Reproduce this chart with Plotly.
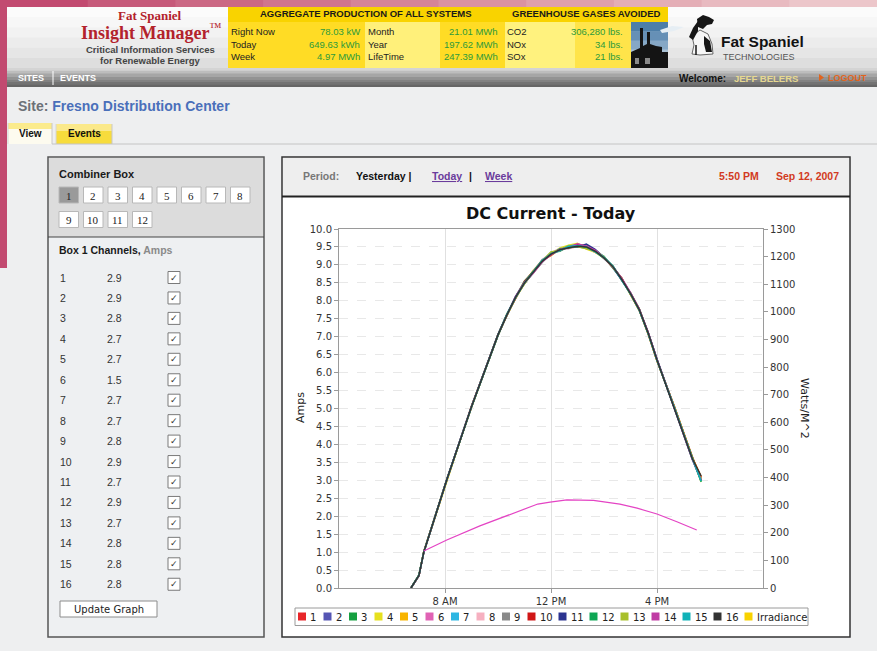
import plotly.graph_objects as go

# ---------------- data ----------------
DAY = "2007-09-12 "
TIMES = ["06:43", "07:01", "07:12", "08:05", "09:00", "10:00", "10:20", "10:40", "11:00",
         "11:20", "11:40", "12:00", "12:20", "12:40", "13:00", "13:20", "13:40", "14:00",
         "14:20", "14:40", "15:00", "15:20", "15:40", "16:00", "16:40", "17:20", "17:40"]

CH01 = [0.0, 0.35, 1.00, 3.04, 5.06, 7.04, 7.62, 8.08, 8.52, 8.82, 9.12, 9.33, 9.40, 9.50, 9.55, 9.48, 9.36, 9.22, 8.93, 8.62, 8.18, 7.77, 7.08, 6.33, 5.02, 3.62, 2.98]
CH02 = [0.0, 0.34, 1.01, 3.06, 5.04, 7.06, 7.58, 8.12, 8.48, 8.78, 9.15, 9.28, 9.45, 9.46, 9.58, 9.52, 9.40, 9.18, 8.97, 8.58, 8.22, 7.73, 7.12, 6.37, 4.98, 3.58, 3.02]
CH03 = [0.0, 0.36, 0.99, 3.05, 5.05, 7.03, 7.61, 8.11, 8.55, 8.80, 9.08, 9.35, 9.38, 9.52, 9.50, 9.47, 9.41, 9.21, 8.92, 8.63, 8.19, 7.76, 7.09, 6.34, 5.03, 3.63, 3.05]
CH04 = [0.0, 0.35, 1.00, 3.03, 5.07, 7.05, 7.63, 8.07, 8.50, 8.85, 9.10, 9.30, 9.47, 9.55, 9.60, 9.44, 9.35, 9.19, 8.98, 8.57, 8.23, 7.78, 7.11, 6.36, 4.99, 3.59, 2.95]
CH05 = [0.0, 0.35, 1.02, 3.07, 5.03, 7.07, 7.59, 8.09, 8.47, 8.83, 9.13, 9.26, 9.43, 9.49, 9.53, 9.56, 9.37, 9.23, 8.94, 8.64, 8.17, 7.72, 7.07, 6.32, 5.04, 3.64, 3.10]
CH06 = [0.0, 0.34, 1.00, 3.04, 5.05, 7.04, 7.60, 8.13, 8.53, 8.77, 9.09, 9.32, 9.44, 9.47, 9.49, 9.53, 9.42, 9.17, 8.96, 8.61, 8.21, 7.74, 7.13, 6.38, 5.01, 3.61, 3.00]
CH07 = [0.0, 0.36, 1.01, 3.06, 5.06, 7.06, 7.62, 8.10, 8.49, 8.81, 9.11, 9.29, 9.41, 9.53, 9.56, 9.51, 9.39, 9.24, 8.91, 8.59, 8.20, 7.76, 7.10, 6.35, 5.00, 3.60, 2.97]
CH08 = [0.0, 0.35, 0.99, 3.05, 5.04, 7.05, 7.61, 8.08, 8.51, 8.84, 9.14, 9.34, 9.46, 9.45, 9.51, 9.49, 9.36, 9.20, 8.95, 8.62, 8.18, 7.75, 7.09, 6.33, 5.02, 3.62, 3.03]
CH09 = [0.0, 0.35, 1.00, 3.05, 5.05, 7.04, 7.59, 8.11, 8.50, 8.79, 9.07, 9.31, 9.39, 9.50, 9.54, 9.50, 9.38, 9.22, 8.97, 8.60, 8.22, 7.77, 7.12, 6.36, 4.98, 3.58, 2.99]
CH10 = [0.0, 0.34, 1.01, 3.04, 5.06, 7.05, 7.60, 8.09, 8.54, 8.82, 9.12, 9.27, 9.44, 9.48, 9.57, 9.46, 9.40, 9.19, 8.93, 8.63, 8.19, 7.73, 7.08, 6.34, 5.03, 3.63, 3.08]
CH11 = [0.0, 0.35, 1.00, 3.06, 5.05, 7.06, 7.61, 8.12, 8.49, 8.80, 9.10, 9.33, 9.42, 9.51, 9.50, 9.58, 9.43, 9.21, 8.94, 8.58, 8.21, 7.76, 7.11, 6.37, 5.01, 3.61, 3.00]
CH12 = [0.0, 0.36, 1.00, 3.05, 5.04, 7.04, 7.62, 8.10, 8.52, 8.83, 9.13, 9.30, 9.45, 9.47, 9.52, 9.48, 9.37, 9.18, 8.96, 8.61, 8.20, 7.74, 7.10, 6.35, 5.00, 3.60, 2.96]
CH13 = [0.0, 0.35, 1.01, 3.04, 5.05, 7.05, 7.58, 8.08, 8.48, 8.81, 9.11, 9.36, 9.41, 9.54, 9.51, 9.45, 9.39, 9.23, 8.92, 8.62, 8.17, 7.75, 7.09, 6.33, 5.02, 3.62, 3.04]
CH14 = [0.0, 0.34, 0.99, 3.06, 5.06, 7.06, 7.60, 8.11, 8.51, 8.78, 9.09, 9.28, 9.43, 9.49, 9.59, 9.52, 9.41, 9.20, 8.95, 8.64, 8.23, 7.77, 7.12, 6.36, 4.99, 3.59, 3.01]
CH15 = [0.0, 0.35, 1.00, 3.05, 5.05, 7.05, 7.61, 8.09, 8.50, 8.82, 9.12, 9.31, 9.40, 9.52, 9.53, 9.50, 9.36, 9.22, 8.97, 8.59, 8.19, 7.73, 7.08, 6.34, 5.01, 3.61, 2.98]
CH16 = [0.0, 0.35, 1.00, 3.05, 5.05, 7.05, 7.60, 8.10, 8.50, 8.80, 9.10, 9.30, 9.42, 9.48, 9.52, 9.50, 9.38, 9.20, 8.95, 8.60, 8.20, 7.75, 7.10, 6.35, 5.00, 3.60, 3.12]

IRR_TIMES = ["07:12", "08:04", "09:19", "10:20", "11:30", "11:58", "12:36", "13:36",
             "14:36", "15:15", "16:00", "16:45", "17:30"]
IRR_VALUES = [134, 174, 225, 261, 304, 311, 319, 317, 304, 289, 268, 240, 210]

SERIES_NAMES = ["1", "2", "3", "4", "5", "6", "7", "8", "9", "10", "11", "12", "13",
                "14", "15", "16", "Irradiance"]
SERIES_COLORS = ["#e8262a", "#5656b4", "#16a040", "#e6e01e", "#f8b400", "#e062b4",
                 "#2eb6e2", "#f6b0c0", "#8a8a8a", "#d01616", "#2c3490", "#0ea654",
                 "#a8c02c", "#c03ca4", "#10b2b8", "#333333", "#f8d200"]
IRR_LINE_COLOR = "#e444c4"

AMP_TICKS_STEP = 0.5
WATT_TICKS_STEP = 100
X_TICKS = ["08:00", "12:00", "16:00"]
X_TICK_LABELS = ["8 AM", "12 PM", "4 PM"]

COMBINER_BOXES = ["1", "2", "3", "4", "5", "6", "7", "8", "9", "10", "11", "12"]
CHANNEL_IDS = [str(i) for i in range(1, 17)]
CHANNEL_AMPS = ["2.9", "2.9", "2.8", "2.7", "2.7", "1.5", "2.7", "2.7", "2.8", "2.9",
                "2.7", "2.9", "2.7", "2.8", "2.8", "2.8"]

SUMMARY_LABELS_1 = ["Right Now", "Today", "Week"]
SUMMARY_VALUES_1 = ["78.03 kW", "649.63 kWh", "4.97 MWh"]
SUMMARY_LABELS_2 = ["Month", "Year", "LifeTime"]
SUMMARY_VALUES_2 = ["21.01 MWh", "197.62 MWh", "247.39 MWh"]
GAS_LABELS = ["CO2", "NOx", "SOx"]
GAS_VALUES = ["306,280 lbs.", "34 lbs.", "21 lbs."]

CHANNELS = [CH01, CH02, CH03, CH04, CH05, CH06, CH07, CH08, CH09, CH10, CH11, CH12,
            CH13, CH14, CH15, CH16]

# ---------------- helpers (pixel -> paper) ----------------
W, H = 877, 651


def px(x):
    return x / W


def py(y):
    return 1 - y / H


shapes = []
annotations = []


def rect(x0, y0, x1, y1, fill, line=None, lw=0, layer="below"):
    shapes.append(dict(type="rect", xref="paper", yref="paper",
                       x0=px(x0), x1=px(x1), y0=py(y1), y1=py(y0),
                       fillcolor=fill, line=dict(color=line or fill, width=lw),
                       layer=layer))


def hline(x0, x1, y, color, lw=1, layer="below"):
    shapes.append(dict(type="line", xref="paper", yref="paper",
                       x0=px(x0), x1=px(x1), y0=py(y), y1=py(y),
                       line=dict(color=color, width=lw), layer=layer))


def vline(x, y0, y1, color, lw=1, layer="below"):
    shapes.append(dict(type="line", xref="paper", yref="paper",
                       x0=px(x), x1=px(x), y0=py(y0), y1=py(y1),
                       line=dict(color=color, width=lw), layer=layer))


def poly(points, fill, layer="below", line=None, lw=0):
    d = "M " + " L ".join(f"{px(x):.5f},{py(y):.5f}" for x, y in points) + " Z"
    shapes.append(dict(type="path", xref="paper", yref="paper", path=d,
                       fillcolor=fill, line=dict(color=line or fill, width=lw), layer=layer))


def text(x, y, s, size, color, family="Liberation Sans", xanchor="left", angle=0):
    annotations.append(dict(x=px(x), y=py(y), xref="paper", yref="paper", text=s,
                            showarrow=False, xanchor=xanchor, yanchor="middle",
                            font=dict(size=size, color=color, family=family),
                            textangle=angle, borderpad=0))


# ---------------- page chrome ----------------
pinks = ["#c24a70", "#c65a7a", "#cb6884", "#d0768e", "#d58498", "#da92a2", "#dfa0ac",
         "#e4aeb6", "#e8bac0", "#ecc6ca"]
for i, c in enumerate(pinks):
    rect(i * W / len(pinks), 0, (i + 1) * W / len(pinks) + 1, 7, c)
rect(0, 0, 7, 268, "#c24a70")

hdr = ["#fbfbfb", "#f7f7f7", "#f2f2f2", "#ececec", "#e6e6e6", "#dedede"]
for i, c in enumerate(hdr):
    rect(7, 7 + i * 10.2, W, 7 + (i + 1) * 10.2 + 0.5, c)

rect(228, 7, 668, 22, "#f9d300")
rect(228, 22, 365, 68, "#ffdc25")
rect(365, 22, 440, 68, "#fff07a")
rect(440, 22, 505, 68, "#ffdc25")
rect(505, 22, 575, 68, "#fff27e")
rect(575, 22, 631, 68, "#ffe44a")

text(365, 14, "<b>AGGREGATE PRODUCTION OF ALL SYSTEMS</b>", 9.5, "#1a1a1a", xanchor="center")
text(586, 14, "<b>GREENHOUSE GASES AVOIDED</b>", 9.5, "#1a1a1a", xanchor="center")
for i in range(3):
    yy = 31 + i * 13
    text(230, yy, SUMMARY_LABELS_1[i], 9.5, "#222222")
    text(361, yy, SUMMARY_VALUES_1[i], 9.5, "#2c9a3c", xanchor="right")
    text(367, yy, SUMMARY_LABELS_2[i], 9.5, "#222222")
    text(499, yy, SUMMARY_VALUES_2[i], 9.5, "#2c9a3c", xanchor="right")
    text(506, yy, GAS_LABELS[i], 9.5, "#222222")
    text(624, yy, GAS_VALUES[i], 9.5, "#2c9a3c", xanchor="right")

# factory picture
sky = ["#4d7ea8", "#6690b6", "#86a8c6", "#a8c0d4", "#c4d2dc"]
for i, c in enumerate(sky):
    rect(631, 22 + i * 9.2, 668, 22 + (i + 1) * 9.2 + 0.5, c)
poly([(660, 30), (672, 26), (684, 27), (674, 31), (662, 33)], "#e6eef4")
poly([(631, 68), (631, 52), (640, 48), (640, 28), (643, 28), (643, 46), (647, 44),
      (647, 32), (650, 32), (650, 44), (656, 46), (662, 47), (662, 52), (668, 52),
      (668, 68)], "#141414")
rect(635, 58, 639, 64, "#8a8a8a")
rect(645, 58, 650, 64, "#8a8a8a")

# dog (sitting spaniel) + company logo
poly([(692, 36), (700, 30), (708, 34), (712, 44), (713, 54), (700, 55), (692, 54),
      (694, 45)], "#f6f6f6", line="#444444", lw=0.8)
poly([(704, 36), (710, 41), (712, 52), (706, 52), (704, 44)], "#161616")
poly([(697, 19), (703, 15), (709, 17), (714, 20), (712, 24), (707, 25), (703, 29),
      (698, 27)], "#161616")
poly([(698, 21), (693, 28), (689, 37), (693, 40), (698, 31)], "#161616")
vline(696, 45, 55, "#161616", 1.5)
text(720, 42, "<b>Fat Spaniel</b>", 15.5, "#111111")
text(722, 57, "TECHNOLOGIES", 9, "#555555")

# product logo
text(150, 15, "<b>Fat Spaniel</b>", 13, "#b3222c", family="Liberation Serif", xanchor="center")
text(151, 32, "<b>Insight Manager</b><sup>™</sup>", 18, "#b3222c",
     family="Liberation Serif", xanchor="center")
text(150, 49, "<b>Critical Information Services</b>", 9.5, "#444444", xanchor="center")
text(150, 60, "<b>for Renewable Energy</b>", 9.5, "#444444", xanchor="center")

# navigation bar
nav = ["#d4d4d4", "#bdbdbd", "#a6a6a6", "#939393", "#828282", "#737373", "#666666"]
for i, c in enumerate(nav):
    rect(7, 68 + i * 2.8, W, 68 + (i + 1) * 2.8 + 0.3, c)
text(17, 78, "<b>SITES</b>", 9, "#ffffff")
vline(53, 71, 85, "#ffffff", 1)
text(59, 78, "<b>EVENTS</b>", 9, "#ffffff")
text(678, 79, "<b>Welcome:</b>", 10, "#111111")
text(733, 79, "<b>JEFF BELERS</b>", 9.5, "#e6d890")
poly([(819, 74), (824, 77.5), (819, 81)], "#e0641e", layer="above")
text(827, 78, "<b>LOGOUT</b>", 9, "#e0641e")

# page body
rect(7, 87, W, H, "#eeeff0")
rect(0, 268, 7, H, "#eeeff0")

text(17, 106, "<b><span style='color:#6c7177'>Site:</span> Fresno Distribution Center</b>",
     14, "#4a6fba")

# tabs
rect(8, 123, 52, 129, "#fbeb8c")
rect(8, 129, 52, 144, "#fdfbef")
rect(56, 124, 112, 131, "#fbe98a")
rect(56, 131, 112, 144, "#f7dc3c")
vline(8, 123, 144, "#d6d6d6")
vline(52, 123, 144, "#c8c8c8")
vline(56, 124, 144, "#d6d6d6")
vline(112, 124, 144, "#c8c8c8")
hline(52, W, 144, "#c4c4c4")
text(18, 134, "<b>View</b>", 10, "#111111")
text(67, 134, "<b>Events</b>", 10, "#111111")

# left panel
rect(48, 157, 264, 637, "#eef0f2", line="#555555", lw=1.5)
rect(49, 158, 263, 237, "#dcdcdc")
hline(48, 264, 237, "#444444", 1.2)
text(58, 174, "<b>Combiner Box</b>", 11, "#1a1a1a")
for i, lab in enumerate(COMBINER_BOXES):
    col = i % 8
    row = i // 8
    x0 = 59 + col * 24.5
    y0 = 187 + row * 24.5
    fill = "#9a9a9a" if i == 0 else "#ffffff"
    rect(x0, y0, x0 + 19.5, y0 + 16, fill, line="#b8b8b8", lw=1)
    text(x0 + 9.75, y0 + 8.5, lab, 11, "#222222", family="Liberation Serif", xanchor="center")

text(58, 250, "<b>Box 1 Channels, <span style='color:#8a8a8a'>Amps</span></b>", 10.5, "#1a1a1a")
for i, (cid, amp) in enumerate(zip(CHANNEL_IDS, CHANNEL_AMPS)):
    yy = 277.5 + i * 20.45
    text(59, yy, cid, 10.5, "#333333")
    text(106, yy, amp, 10.5, "#333333")
    rect(168, yy - 6, 180, yy + 6, "#ffffff", line="#7a7a7a", lw=1)
    text(174, yy, "✓", 9, "#333333", family="DejaVu Sans", xanchor="center")

rect(60, 601, 157, 617, "#ffffff", line="#8c8c8c", lw=1)
text(108.5, 609, "Update Graph", 10, "#222222", family="DejaVu Sans", xanchor="center")

# chart panel
rect(282, 157, 850, 637, "#ffffff", line="#333333", lw=1.5)
rect(283, 158, 849, 196, "#eeeeee")
hline(282, 850, 196.5, "#222222", 2)
text(302, 176, "<b>Period:</b>", 10.5, "#777777")
text(355, 176, "<b>Yesterday |</b>", 10.5, "#111111")
text(431, 176, "<b><u>Today</u></b>", 10.5, "#6a3c9c")
text(468, 176, "<b>|</b>", 10.5, "#111111")
text(484, 176, "<b><u>Week</u></b>", 10.5, "#6a3c9c")
text(760, 176, "<b>5:50 PM</b>", 10.5, "#d23a22", xanchor="right")
text(840, 176, "<b>Sep 12, 2007</b>", 10.5, "#d23a22", xanchor="right")

text(551, 213, "<b>DC Current - Today</b>", 16, "#111111", family="DejaVu Sans", xanchor="center")
text(301, 408, "Amps", 11, "#222222", family="DejaVu Sans", xanchor="center", angle=-90)
text(804, 408, "Watts/M^2", 11, "#222222", family="DejaVu Sans", xanchor="center", angle=90)

# manual legend (square swatches)
rect(295, 608, 808, 625.5, "#ffffff", line="#9a9a9a", lw=1)
lx = 298
for name, col in zip(SERIES_NAMES, SERIES_COLORS):
    rect(lx, 612.5, lx + 8, 620.5, col, layer="above")
    text(lx + 11, 617, name, 10, "#222222", family="DejaVu Sans")
    lx += 20 + 5.5 * len(name)

# ---------------- chart ----------------
fig = go.Figure()
for name, col, vals in zip(SERIES_NAMES[:16], SERIES_COLORS[:16], CHANNELS):
    fig.add_trace(go.Scatter(x=[DAY + t for t in TIMES], y=vals, mode="lines", name=name,
                             line=dict(color=col, width=1.5), showlegend=False))
fig.add_trace(go.Scatter(x=[DAY + t for t in IRR_TIMES], y=IRR_VALUES, mode="lines",
                         name="Irradiance", yaxis="y2",
                         line=dict(color=IRR_LINE_COLOR, width=1.2), showlegend=False))

tickfont = dict(family="DejaVu Sans", size=10, color="#333333")
fig.update_layout(
    width=W, height=H, autosize=False,
    margin=dict(l=0, r=0, t=0, b=0, pad=0, autoexpand=False),
    paper_bgcolor="#eeeff0", plot_bgcolor="rgba(0,0,0,0)",
    showlegend=False,
    shapes=shapes, annotations=annotations,
    xaxis=dict(domain=[px(339), px(763)], type="date", automargin=False,
               range=[DAY + "04:00", DAY + "20:00"],
               tickmode="array", tickvals=[DAY + t for t in X_TICKS], ticktext=X_TICK_LABELS,
               showgrid=True, gridcolor="#e0e0e0", gridwidth=1,
               showline=True, linecolor="#9a9a9a", linewidth=1, mirror=True,
               ticks="outside", ticklen=4, tickcolor="#9a9a9a",
               tickfont=tickfont, zeroline=False, fixedrange=True),
    yaxis=dict(domain=[py(588), py(229)], range=[0, 10], tick0=0, dtick=AMP_TICKS_STEP,
               automargin=False,
               tickformat=".1f", showgrid=True, gridcolor="#e8e8e8", griddash="dash",
               gridwidth=1, showline=True, linecolor="#9a9a9a", linewidth=1, mirror=True,
               ticks="outside", ticklen=4, tickcolor="#9a9a9a", tickfont=tickfont,
               zeroline=False, fixedrange=True),
    yaxis2=dict(overlaying="y", side="right", range=[0, 1300], tick0=0, dtick=WATT_TICKS_STEP,
                automargin=False,
                showgrid=False, showline=True, linecolor="#9a9a9a", linewidth=1,
                ticks="outside", ticklen=4, tickcolor="#9a9a9a", tickfont=tickfont,
                zeroline=False, fixedrange=True),
)

fig.write_html("out.html", config={"displayModeBar": False},
               post_script="document.body.style.margin='0';document.body.style.overflow='hidden';")
